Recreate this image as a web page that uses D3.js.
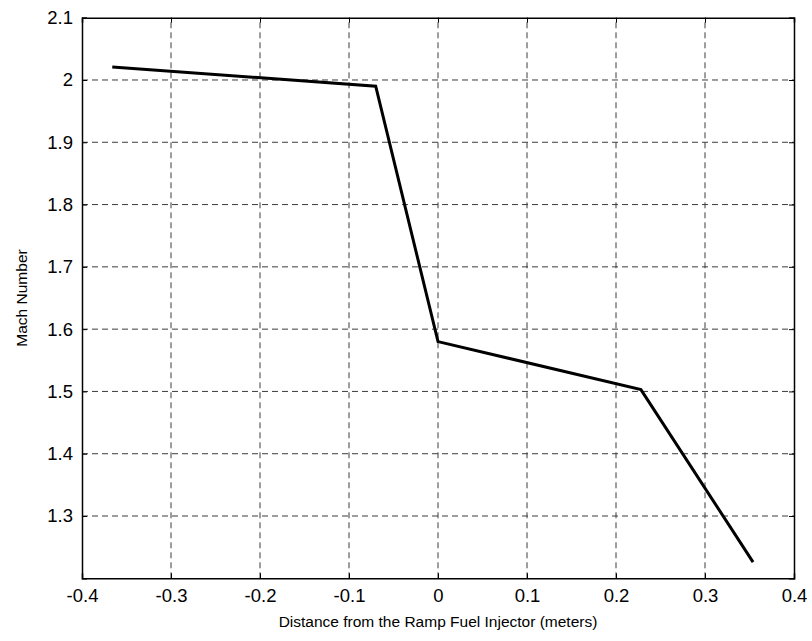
<!DOCTYPE html>
<html><head><meta charset="utf-8">
<script src="https://cdn.jsdelivr.net/npm/d3@7"></script>
<style>body{margin:0;background:#fff}svg{display:block}</style>
</head><body>
<script>
const xValues = [-0.366, -0.070, 0.0, 0.228, 0.354];
const machValues = [2.021, 1.990, 1.580, 1.503, 1.226];
const xTicks = [-0.4, -0.3, -0.2, -0.1, 0, 0.1, 0.2, 0.3, 0.4];
const yTicks = [1.3, 1.4, 1.5, 1.6, 1.7, 1.8, 1.9, 2.0, 2.1];
const xLabel = "Distance from the Ramp Fuel Injector (meters)";
const yLabel = "Mach Number";

const W = 812, H = 641;
const m = {left: 82, right: 812-794, top: 17.7, bottom: 641-578.3};
const svg = d3.select("body").append("svg").attr("width", W).attr("height", H);
const x = d3.scaleLinear().domain([-0.4, 0.4]).range([m.left, W - m.right]);
const y = d3.scaleLinear().domain([1.2, 2.1]).range([H - m.bottom, m.top]);
const font = "'Liberation Sans', Arial, sans-serif";
const fmt = d => (d === 0 ? "0" : (Math.abs(d - Math.round(d)) < 1e-9 ? String(Math.round(d)) : d.toFixed(1)));

const g = svg.append("g");
g.selectAll("line.gx").data(xTicks.slice(1, -1)).join("line")
  .attr("x1", d => x(d)).attr("x2", d => x(d))
  .attr("y1", y.range()[0]).attr("y2", y.range()[1])
  .attr("stroke", "#3c3c3c").attr("stroke-width", 1).attr("stroke-dasharray", "6,4");
g.selectAll("line.gy").data(yTicks.slice(0, -1)).join("line")
  .attr("y1", d => y(d)).attr("y2", d => y(d))
  .attr("x1", x.range()[0]).attr("x2", x.range()[1])
  .attr("stroke", "#3c3c3c").attr("stroke-width", 1).attr("stroke-dasharray", "6,4");

const xb = svg.append("g").attr("transform", `translate(0,${y.range()[0]})`)
  .call(d3.axisBottom(x).tickValues(xTicks).tickSize(-5).tickPadding(11).tickFormat(fmt));
const xt = svg.append("g").attr("transform", `translate(0,${y.range()[1]})`)
  .call(d3.axisTop(x).tickValues(xTicks).tickSize(-5).tickFormat(""));
const yl = svg.append("g").attr("transform", `translate(${x.range()[0]},0)`)
  .call(d3.axisLeft(y).tickValues(yTicks).tickSize(-5).tickPadding(9).tickFormat(fmt));
const yr = svg.append("g").attr("transform", `translate(${x.range()[1]},0)`)
  .call(d3.axisRight(y).tickValues(yTicks).tickSize(-5).tickFormat(""));
[xb, xt, yl, yr].forEach(a => {
  a.selectAll(".domain").attr("stroke", "#000").attr("stroke-width", 1.5);
  a.selectAll(".tick line").attr("stroke", "#000");
  a.selectAll("text").attr("font-family", font).attr("font-size", 18.5).attr("fill", "#000");
});

svg.append("path")
  .datum(xValues.map((v, i) => [v, machValues[i]]))
  .attr("fill", "none").attr("stroke", "#000").attr("stroke-width", 3)
  .attr("stroke-linejoin", "miter")
  .attr("d", d3.line().x(d => x(d[0])).y(d => y(d[1])));

svg.append("text").attr("x", (x.range()[0] + x.range()[1]) / 2).attr("y", 627)
  .attr("text-anchor", "middle").attr("font-family", font).attr("font-size", 15.5).text(xLabel);
svg.append("text").attr("transform", `translate(27,${(y.range()[0] + y.range()[1]) / 2}) rotate(-90)`)
  .attr("text-anchor", "middle").attr("font-family", font).attr("font-size", 15.5).text(yLabel);
</script>
</body></html>
